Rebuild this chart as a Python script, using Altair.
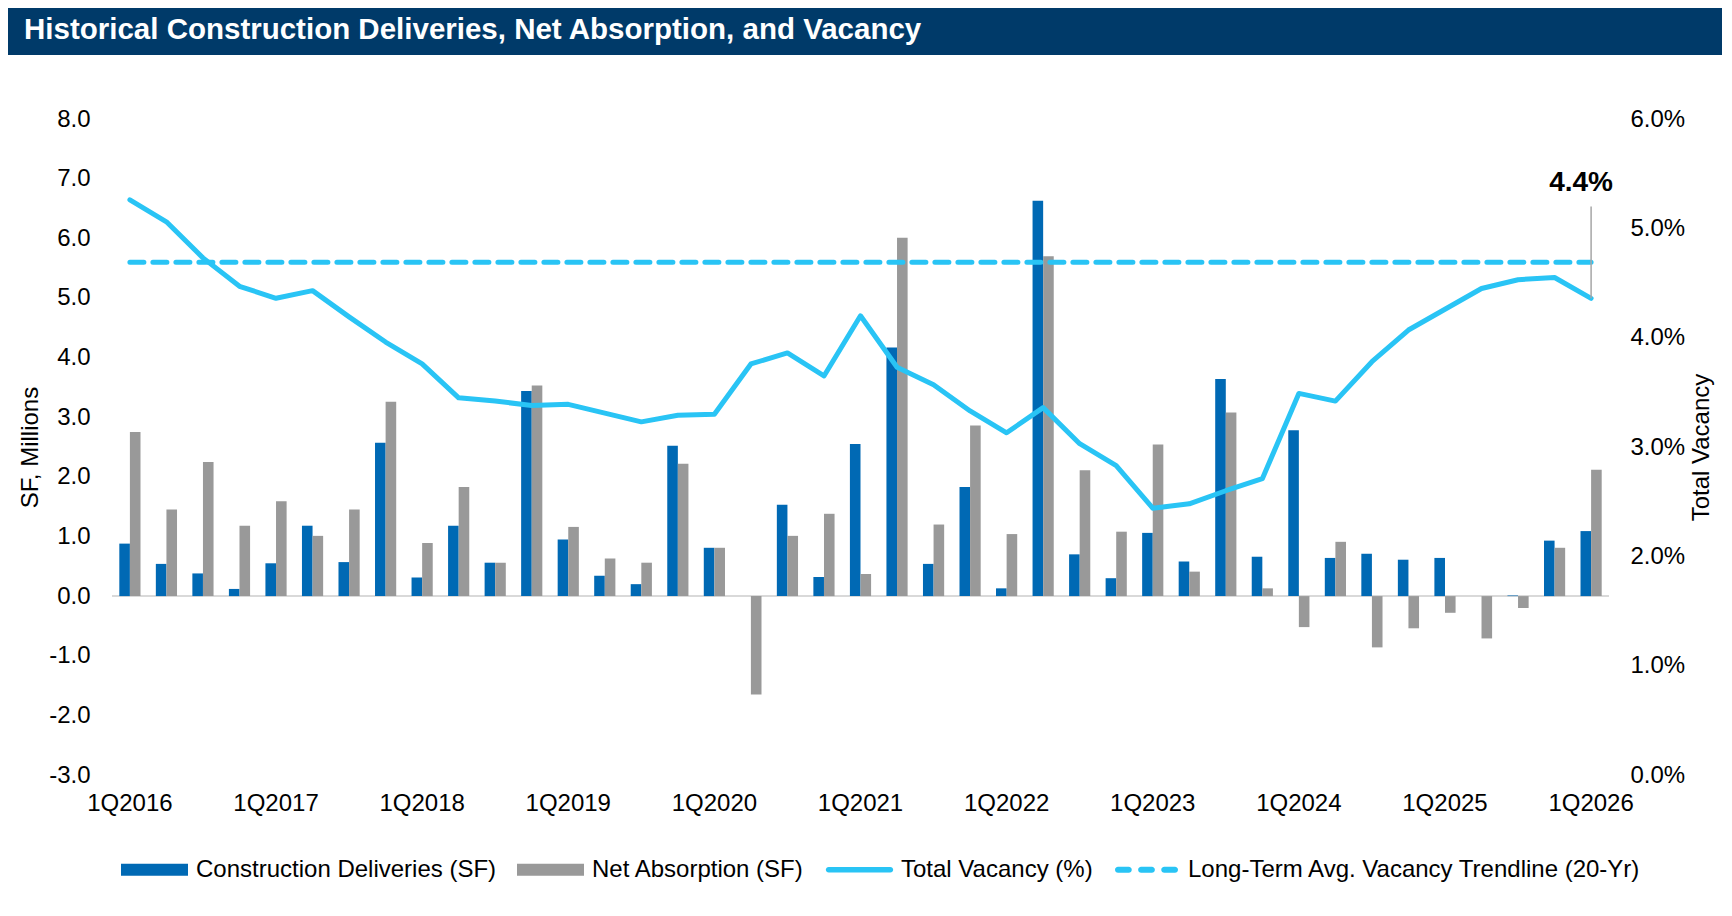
import altair as alt
import pandas as pd

FONT = "Liberation Sans"

TITLE = "Historical Construction Deliveries, Net Absorption, and Vacancy"

QUARTERS = [f"{q}Q{y}" for y in range(2016, 2027) for q in range(1, 5)][:41]

# SF, millions
DELIVERIES = [0.88, 0.54, 0.38, 0.12, 0.55, 1.18, 0.57, 2.57, 0.31, 1.18, 0.56, 3.44,
              0.95, 0.34, 0.20, 2.52, 0.81, 0.00, 1.53, 0.32, 2.55, 4.17, 0.54, 1.83,
              0.13, 6.63, 0.70, 0.30, 1.06, 0.58, 3.64, 0.66, 2.78, 0.64, 0.71, 0.61,
              0.64, 0.00, 0.01, 0.93, 1.09]
ABSORPTION = [2.75, 1.45, 2.25, 1.18, 1.59, 1.01, 1.45, 3.26, 0.89, 1.83, 0.56, 3.53,
              1.16, 0.63, 0.56, 2.22, 0.81, -1.65, 1.01, 1.38, 0.37, 6.01, 1.20, 2.86,
              1.04, 5.70, 2.11, 1.08, 2.54, 0.41, 3.08, 0.13, -0.52, 0.91, -0.86, -0.54,
              -0.28, -0.71, -0.20, 0.81, 2.12]
# Total vacancy, %
VACANCY = [5.26, 5.06, 4.73, 4.47, 4.36, 4.43, 4.19, 3.96, 3.76, 3.45, 3.42, 3.38,
           3.39, 3.31, 3.23, 3.29, 3.30, 3.76, 3.86, 3.65, 4.20, 3.73, 3.57, 3.33,
           3.13, 3.36, 3.03, 2.83, 2.44, 2.48, 2.60, 2.71, 3.49, 3.42, 3.78, 4.07,
           4.26, 4.45, 4.53, 4.55, 4.36]
TREND = 4.69

SERIES = ["Construction Deliveries (SF)", "Net Absorption (SF)",
          "Total Vacancy (%)", "Long-Term Avg. Vacancy Trendline (20-Yr)"]
COLORS = ["#0069B4", "#999999", "#29C4F5", "#29C4F5"]
NAVY = "#003A69"

LEFT_TICKS = list(range(-3, 9))
RIGHT_TICKS = list(range(0, 7))

# ---------------- data frames ----------------
deliv_df = pd.DataFrame({"quarter": QUARTERS, "series": SERIES[0], "value": DELIVERIES})
absorb_df = pd.DataFrame({"quarter": QUARTERS, "series": SERIES[1], "value": ABSORPTION})
vac_df = pd.DataFrame({"quarter": QUARTERS, "vacancy": VACANCY})
trend_df = pd.DataFrame({"quarter": [QUARTERS[0], QUARTERS[-1]], "vacancy": [TREND, TREND]})
last_df = pd.DataFrame({"quarter": [QUARTERS[-1]], "vacancy": [VACANCY[-1]],
                        "label": [f"{VACANCY[-1]:.1f}%"]})
zero_df = pd.DataFrame({"z": [0]})
legend_df = pd.DataFrame({"quarter": [QUARTERS[0]] * 4, "vacancy": [TREND] * 4,
                          "series": SERIES})
title_df = pd.DataFrame({"t": [TITLE]})

# ---------------- legend symbols ----------------
def capsule(x0, x1, h):
    return (f"M{x0},{-h}L{x1},{-h}A{h},{h},0,0,1,{x1},{h}"
            f"L{x0},{h}A{h},{h},0,0,1,{x0},{-h}Z")

RECT_PATH = "M-1,-0.18L1,-0.18L1,0.18L-1,0.18Z"
LINE_PATH = capsule(-0.92, 0.92, 0.085)
DASH_PATH = " ".join([capsule(-0.85, -0.53, 0.09), capsule(-0.16, 0.16, 0.09),
                      capsule(0.53, 0.85, 0.09)])
SHAPES = [RECT_PATH, RECT_PATH, LINE_PATH, DASH_PATH]

legend_props = dict(
    title=None, orient="none", legendX=9, legendY=717, direction="horizontal",
    symbolSize=4489, labelFontSize=24, labelFont=FONT, labelColor="#000000",
    labelOffset=8, columnPadding=20, labelLimit=800, padding=0,
    symbolOpacity=1, symbolStrokeWidth=0,
)

x_enc = alt.X(
    "quarter:N", sort=QUARTERS,
    scale=alt.Scale(domain=QUARTERS, paddingInner=0.42, paddingOuter=0.2),
    axis=alt.Axis(values=[q for q in QUARTERS if q.startswith("1Q")], labelAngle=0,
                  ticks=False, domain=False, grid=False, labelPadding=16,
                  labelFontSize=24, labelFont=FONT, labelColor="#000000", title=None),
)
xoff_enc = alt.XOffset("series:N", sort=SERIES[:2],
                       scale=alt.Scale(domain=SERIES[:2], paddingInner=0, paddingOuter=0))

left_y_scale = alt.Scale(domain=[-3, 8], nice=False, zero=False)
right_y_scale = alt.Scale(domain=[0, 6], nice=False, zero=False)

left_axis = alt.Axis(values=LEFT_TICKS,
                     labelExpr="replace(format(datum.value, '.1f'), '\u2212', '-')",
                     title="SF, Millions", titleX=-82, titleBaseline="middle",
                     grid=False, domain=False, ticks=False,
                     labelPadding=22, labelFontSize=24, labelFont=FONT,
                     labelColor="#000000", titleFontSize=24, titleFont=FONT,
                     titleFontWeight="normal", titleColor="#000000")

zero_rule = alt.Chart(zero_df).mark_rule(color="#D9D9D9", strokeWidth=2).encode(
    y=alt.Y("z:Q", scale=left_y_scale, axis=left_axis)
)

bars_deliv = alt.Chart(deliv_df).mark_bar(color=COLORS[0]).encode(
    x=x_enc, xOffset=xoff_enc, y=alt.Y("value:Q", scale=left_y_scale),
)
bars_absorb = alt.Chart(absorb_df).mark_bar(color=COLORS[1]).encode(
    x=x_enc, xOffset=xoff_enc, y=alt.Y("value:Q", scale=left_y_scale),
)

left = alt.layer(zero_rule, bars_deliv, bars_absorb)

right_axis = alt.Axis(orient="right", values=RIGHT_TICKS,
                      labelExpr="format(datum.value, '.1f') + '%'",
                      title="Total Vacancy", titleAngle=270, titleX=92,
                      titleBaseline="middle", grid=False, domain=False,
                      ticks=False, labelPadding=21, labelFontSize=24,
                      labelFont=FONT, labelColor="#000000", titleFontSize=24,
                      titleFont=FONT, titleFontWeight="normal", titleColor="#000000")

trend_line = alt.Chart(trend_df).mark_line(color=COLORS[3], strokeWidth=5,
                                           strokeCap="round", strokeDash=[14, 9]).encode(
    x=x_enc,
    y=alt.Y("vacancy:Q", scale=right_y_scale, axis=right_axis),
)

vac_line = alt.Chart(vac_df).mark_line(color=COLORS[2], strokeWidth=5,
                                       strokeCap="round", strokeJoin="round").encode(
    x=x_enc,
    y=alt.Y("vacancy:Q", scale=right_y_scale),
)

leader = alt.Chart(last_df).mark_rule(color="#A6A6A6", strokeWidth=1.5).encode(
    x=x_enc,
    y=alt.Y("vacancy:Q", scale=right_y_scale),
    y2=alt.datum(5.2),
)

label = alt.Chart(last_df).mark_text(font=FONT, fontSize=28, fontWeight="bold",
                                     color="#000000", dx=-10, dy=-115).encode(
    x=x_enc,
    y=alt.Y("vacancy:Q", scale=right_y_scale),
    text="label:N",
)

# legend carrier: draws no marks, only the legend
legend_layer = alt.Chart(legend_df).mark_point(filled=True, opacity=1).encode(
    x=x_enc,
    y=alt.Y("vacancy:Q", scale=right_y_scale),
    color=alt.Color("series:N", scale=alt.Scale(domain=SERIES, range=COLORS),
                    legend=alt.Legend(**legend_props)),
    shape=alt.Shape("series:N", scale=alt.Scale(domain=SERIES, range=SHAPES),
                    legend=alt.Legend(**legend_props)),
).transform_filter("false")

right = alt.layer(trend_line, vac_line, leader, label, legend_layer)

# title banner (decoration, placed above the plot area)
banner = alt.Chart(title_df).mark_rect(color=NAVY).encode(
    x=alt.value(-104), x2=alt.value(1610), y=alt.value(-111), y2=alt.value(-64)
)
banner_text = alt.Chart(title_df).mark_text(
    align="left", baseline="middle", font=FONT, fontSize=29.5, fontWeight="bold",
    color="#FFFFFF"
).encode(x=alt.value(-88), y=alt.value(-89), text="t:N")

main = alt.layer(left, right).resolve_scale(y="independent")

chart = alt.layer(banner, banner_text, main).properties(
    width=1497, height=656, padding=0, background="#FFFFFF"
).configure_view(stroke=None)

chart.save("out.html", embed_options={"renderer": "svg", "actions": False})
